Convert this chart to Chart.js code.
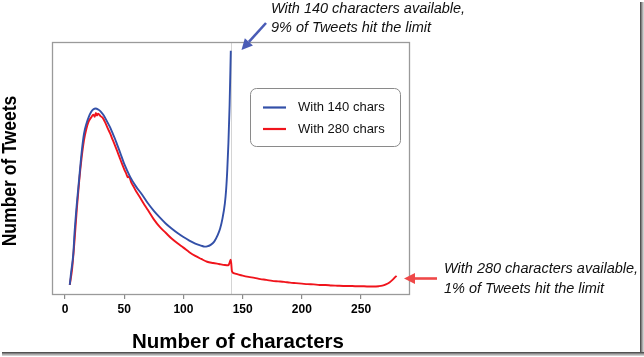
<!DOCTYPE html>
<html>
<head>
<meta charset="utf-8">
<script src="https://cdn.jsdelivr.net/npm/chart.js@4/dist/chart.umd.min.js"></script>
<style>
html,body{margin:0;padding:0;background:#fff;}
#wrap{position:relative;width:644px;height:357px;overflow:hidden;}
#shR{position:absolute;left:640px;top:2px;width:4px;height:354px;background:linear-gradient(to right,#3a3a3a,#9a9a9a,#e0e0e0);}
#shB{position:absolute;left:2px;top:352px;width:642px;height:4px;background:linear-gradient(to bottom,#3a3a3a,#9a9a9a,#e0e0e0);}
</style>
</head>
<body>
<div id="wrap">
<canvas id="c" width="644" height="357"></canvas>
<div id="shR"></div><div id="shB"></div>
</div>
<script>
// ---- data (y in relative units) ----
const chars140 = [4,5,7,8,10,12,14,16,18,20,22,24,26,28,30,32,34,36,38,40,42,44,46,48,50,55,60,65,70,75,80,85,90,95,100,105,110,115,118,120,123,126,129,131,133,135,136,137,138,139,140];
const tweets140 = [3.6,8,16,24,36,46,56,63.5,67.5,70.2,72.2,73.3,73.6,73.2,72.5,71.3,69.8,68,66.2,64,61.8,59.3,56.8,54.2,51.6,46.5,42.6,39.5,36,33,30.4,28,26,24.2,22.6,21.2,20,19.2,18.8,18.9,19.5,20.8,23.5,26,30,36,41,49,60,75,96.5];

const chars280 = [4,6,8,10,12,14,16,18,20,22,24,25,26,27,28,30,32,34,36,38,40,42,44,46,48,50,52,53,54,56,58,60,63,66,70,75,80,85,90,95,100,105,110,115,120,125,130,135,138,139,140,141,143,146,150,155,160,165,170,175,180,185,190,195,200,205,210,215,220,225,230,235,240,245,250,255,260,265,268,271,274,277,279,280];
const tweets280 = [3.6,10,21,34,45,54,61,65.5,68.5,70,71.2,70.3,71.8,70.8,71.5,70.6,69.8,68,65.8,63.8,61.5,59.2,56.8,54.3,51.8,49.5,47.4,46.3,46.6,44.2,42.5,40.8,38.6,36.2,33.3,29.6,26.6,24.3,22,20.1,18.4,16.6,15.1,13.9,12.8,12.3,11.9,11.5,11.4,12.5,13.6,9,8.2,7.8,7.3,6.8,6.4,5.9,5.6,5.2,5.0,4.8,4.5,4.3,4.1,3.9,3.8,3.6,3.6,3.4,3.3,3.2,3.2,3.1,3.1,3.0,3.0,3.1,3.3,3.8,4.6,5.8,6.8,7.2];

const xTicks = [0,50,100,150,200,250];
const seriesNames = ['With 140 chars','With 280 chars'];
const seriesColors = ['#3350a8','#f0141c'];
const limitChars = 140;

const toPts = (xs, ys) => xs.map((x,i)=>({x:x, y:ys[i]}));

const overlay = {
  id:'overlay',
  beforeDatasetsDraw(chart){
    const {ctx, chartArea:a, scales:{x}} = chart;
    ctx.save();
    const vx = Math.round(x.getPixelForValue(limitChars))+0.5;
    ctx.strokeStyle='#d4d4d4'; ctx.lineWidth=1;
    ctx.beginPath(); ctx.moveTo(vx,a.top); ctx.lineTo(vx,a.bottom); ctx.stroke();
    ctx.restore();
  },
  afterDraw(chart){
    const {ctx, chartArea:a} = chart;
    ctx.save();
    // plot box
    ctx.strokeStyle='#9a9a9a'; ctx.lineWidth=1.3;
    ctx.strokeRect(a.left+0.5,a.top+0.5,a.right-a.left,a.bottom-a.top);
    // legend
    const lx=250, ly=88, lw=150, lh=58, r=6;
    ctx.fillStyle='#fff'; ctx.strokeStyle='#8a8a8a'; ctx.lineWidth=1;
    ctx.beginPath();
    ctx.roundRect(lx+0.5,ly+0.5,lw,lh,r);
    ctx.fill(); ctx.stroke();
    chart.data.datasets.forEach((ds,i)=>{
      const yy = 107.5 + i*21.5;
      ctx.strokeStyle=ds.borderColor; ctx.lineWidth=2.2;
      ctx.beginPath(); ctx.moveTo(263,yy); ctx.lineTo(286,yy); ctx.stroke();
      ctx.fillStyle='#111'; ctx.font='13px "Liberation Sans", Arial, sans-serif';
      ctx.textBaseline='middle'; ctx.textAlign='left';
      ctx.fillText(ds.label,298,yy);
    });
    // axis titles
    ctx.fillStyle='#000';
    ctx.font='bold 20.5px "Liberation Sans", Arial, sans-serif';
    ctx.textAlign='center'; ctx.textBaseline='middle';
    ctx.fillText('Number of characters',238,342);
    ctx.save();
    ctx.translate(10,171); ctx.rotate(-Math.PI/2); ctx.scale(0.855,1);
    ctx.fillText('Number of Tweets',0,0);
    ctx.restore();
    // annotations
    ctx.font='italic 14.5px "Liberation Sans", Arial, sans-serif';
    ctx.textAlign='left'; ctx.textBaseline='alphabetic'; ctx.fillStyle='#111';
    ctx.fillText('With 140 characters available,',271,12.7);
    ctx.fillText('9% of Tweets hit the limit',271,31.7);
    ctx.fillText('With 280 characters available,',444,272.7);
    ctx.fillText('1% of Tweets hit the limit',444,292.5);
    const arrow=(x1,y1,x2,y2,col)=>{
      const ang=Math.atan2(y2-y1,x2-x1), hl=11, hw=5.5;
      const bx=x2-hl*Math.cos(ang), by=y2-hl*Math.sin(ang);
      ctx.strokeStyle=col; ctx.fillStyle=col; ctx.lineWidth=2.6;
      ctx.beginPath(); ctx.moveTo(x1,y1); ctx.lineTo(bx,by); ctx.stroke();
      ctx.beginPath(); ctx.moveTo(x2,y2);
      ctx.lineTo(bx+hw*Math.sin(ang), by-hw*Math.cos(ang));
      ctx.lineTo(bx-hw*Math.sin(ang), by+hw*Math.cos(ang));
      ctx.closePath(); ctx.fill();
    };
    arrow(266,23,241.5,50,'#4a5cb6');
    arrow(437,278.5,404,278.5,'#ef4848');
    ctx.restore();
  }
};

new Chart(document.getElementById('c'),{
  type:'line',
  data:{datasets:[
    {label:seriesNames[0],data:toPts(chars140,tweets140),borderColor:seriesColors[0],borderWidth:1.9,pointRadius:0,cubicInterpolationMode:'monotone',fill:false},
    {label:seriesNames[1],data:toPts(chars280,tweets280),borderColor:seriesColors[1],borderWidth:1.9,pointRadius:0,cubicInterpolationMode:'monotone',fill:false}
  ]},
  options:{
    responsive:false, animation:false, devicePixelRatio:1,
    layout:{padding:{left:52,right:235,top:42,bottom:0}},
    plugins:{legend:{display:false},tooltip:{enabled:false}},
    scales:{
      x:{type:'linear',min:-11,max:290.5,
        afterBuildTicks(s){ s.ticks = xTicks.map(v=>({value:v})); },
        afterFit(s){ s.height = 63; },
        grid:{display:true,drawOnChartArea:false,drawTicks:true,tickLength:5,color:'#8a8a8a',lineWidth:1.2},
        border:{display:false},
        ticks:{color:'#000',font:{family:'"Liberation Sans", Arial, sans-serif',size:12,weight:'bold'},padding:3,maxRotation:0,autoSkip:false}
      },
      y:{display:false,min:0,max:100}
    }
  },
  plugins:[overlay]
});
</script>
</body>
</html>
